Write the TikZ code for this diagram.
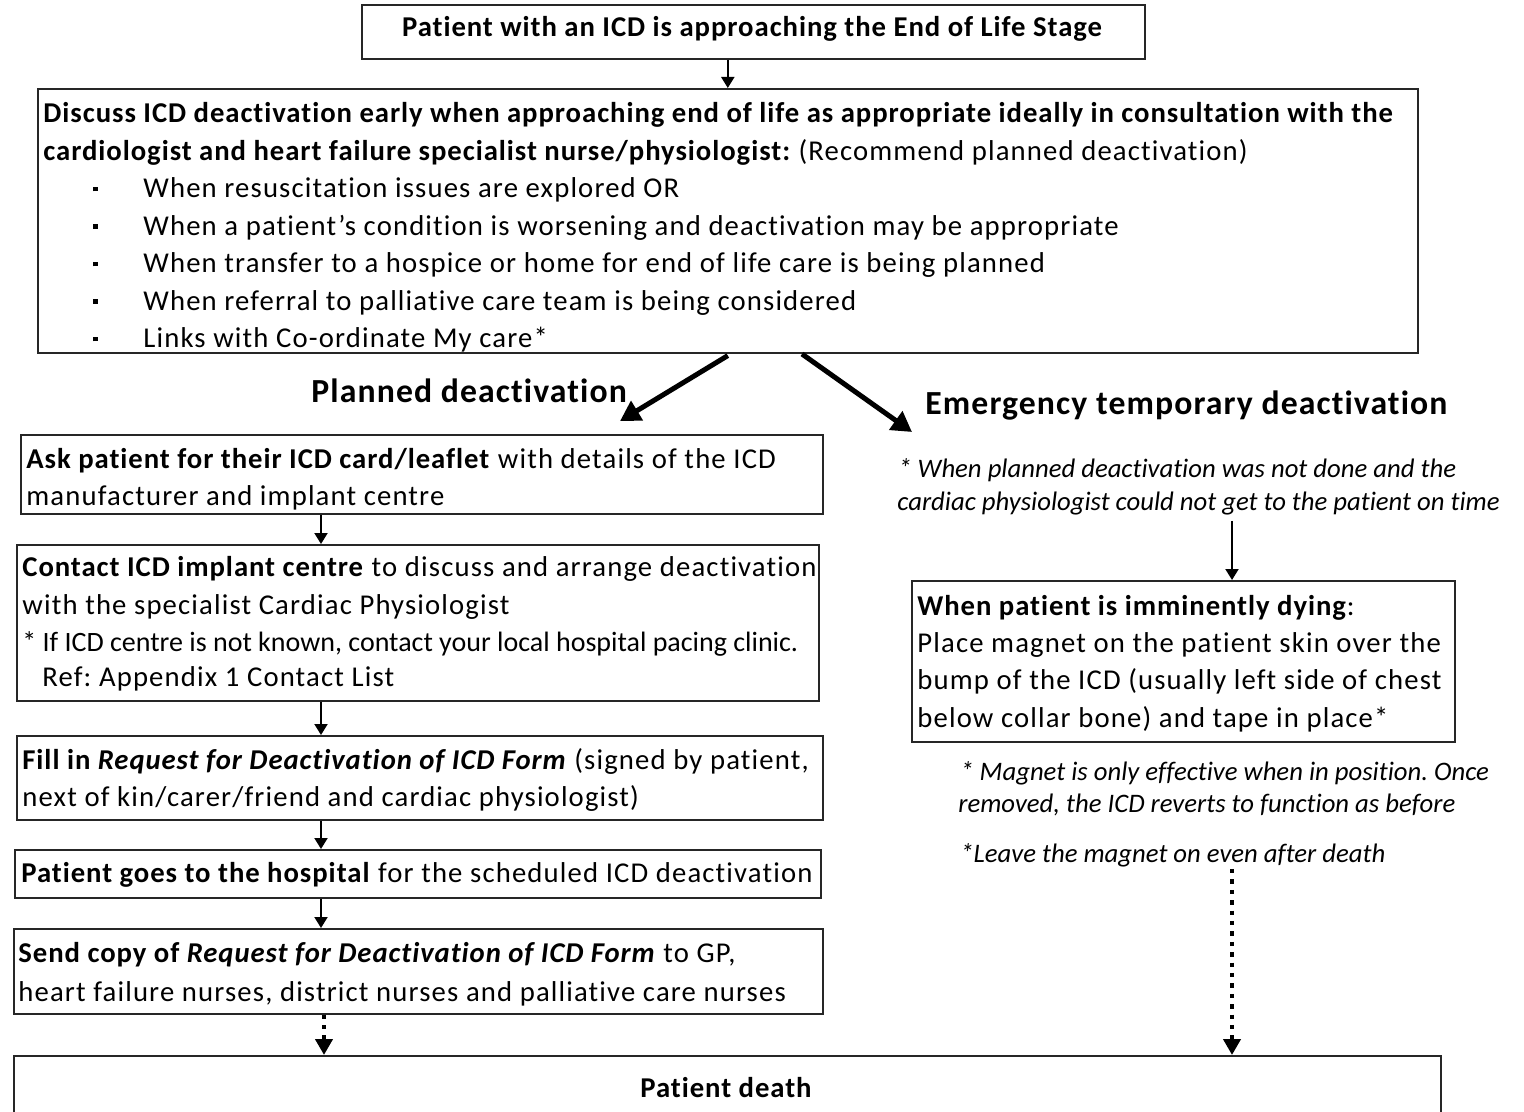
\documentclass[tikz,border=0pt]{standalone}
\usepackage{fontspec}
\setmainfont{Carlito}[LetterSpace=4, Ligatures=NoCommon,
  BoldFeatures={LetterSpace=3.3}, BoldItalicFeatures={LetterSpace=3.3}]
\newfontfamily\tightfont{Carlito}[Ligatures=NoCommon]
\usetikzlibrary{arrows.meta}
\tikzset{
  box/.style={draw=black!85, line width=0.8pt, inner sep=0pt, anchor=north west},
  txt/.style={anchor=base west, inner sep=0pt, font=\fontsize{14.35}{17}\selectfont},
  head/.style={anchor=base west, inner sep=0pt, font=\fontsize{16.85}{20}\selectfont\bfseries},
  note/.style={anchor=base west, inner sep=0pt, font=\fontsize{13.35}{16}\tightfont\itshape},
  arr/.style={line width=1pt, -{Triangle[length=5.5pt,width=6.5pt]}},
  bigarr/.style={line width=2.5pt, -{Triangle[length=10pt,width=11pt]}},
  dotarr/.style={line width=2pt, dash pattern=on 2.2pt off 3pt, -{Triangle[length=8pt,width=8.5pt]}}
}
\newcommand{\blt}{\makebox[25pt][l]{\rule[3.3pt]{2.4pt}{2.4pt}}}
\begin{document}
\frenchspacing
\begin{tikzpicture}[x=0.5pt,y=-0.5pt]
\useasboundingbox (0,0) rectangle (1524,1112);
\fill[white] (0,0) rectangle (1524,1112);
% boxes
\node[box, minimum width=391.5pt, minimum height=27pt] (tb) at (361,4) {};
\node[box, minimum width=690pt, minimum height=132pt] (big) at (37,88) {};
\node[box, minimum width=401pt, minimum height=39.5pt] (bA) at (20,434) {};
\node[box, minimum width=401pt, minimum height=78pt] (bB) at (16,544) {};
\node[box, minimum width=403pt, minimum height=42pt] (bC) at (16,735) {};
\node[box, minimum width=403pt, minimum height=24pt] (bD) at (14,849) {};
\node[box, minimum width=404.5pt, minimum height=42.5pt] (bE) at (13,928) {};
\node[box, minimum width=713.5pt, minimum height=40pt] (death) at (13,1055) {};
\node[box, minimum width=271.5pt, minimum height=80.5pt] (bF) at (911,580) {};
% title
\node[txt, anchor=base] (t0) at (752,37) {\bfseries Patient with an ICD is approaching the End of Life Stage};
% big box text
\begin{scope}
\clip (big.north west) rectangle (big.south east);
\node[txt] (d1) at (43,123) {\bfseries Discuss ICD deactivation early when approaching end of life as appropriate ideally in consultation with the};
\node[txt] (d2) at (43,160.5) {\textbf{cardiologist and heart failure specialist nurse/physiologist:} (Recommend planned deactivation)};
\node[txt] (d3) at (93,198) {\blt When resuscitation issues are explored OR};
\node[txt] (d4) at (93,235.5) {\blt When a patient’s condition is worsening and deactivation may be appropriate};
\node[txt] (d5) at (93,273) {\blt When transfer to a hospice or home for end of life care is being planned};
\node[txt] (d6) at (93,310.5) {\blt When referral to palliative care team is being considered};
\node[txt] (d7) at (93,348) {\blt Links with Co-ordinate My care*};
\end{scope}
% headings
\node[head] (pl) at (311,402) {Planned deactivation};
\node[head] (em) at (925,414) {Emergency temporary deactivation};
% left column
\node[txt] (a1) at (26,468) {\textbf{Ask patient for their ICD card/leaflet} with details of the ICD};
\node[txt] (a2) at (26,505) {manufacturer and implant centre};
\node[txt] (b1) at (22,576) {\textbf{Contact ICD implant centre} to discuss and arrange deactivation};
\node[txt] (b2) at (22,614) {with the specialist Cardiac Physiologist};
\node[txt] (b3) at (22,651) {\fontsize{14}{17}\tightfont * If ICD centre is not known, contact your local hospital pacing clinic.};
\node[txt] (b4) at (42,686) {Ref: Appendix 1 Contact List};
\node[txt] (c1) at (22,769) {\textbf{Fill in \textit{Request for Deactivation of ICD Form}} (signed by patient,};
\node[txt] (c2) at (22,806) {next of kin/carer/friend and cardiac physiologist)};
\node[txt] (dd1) at (21,882) {\textbf{Patient goes to the hospital} for the scheduled ICD deactivation};
\node[txt] (e1) at (18,962) {\textbf{Send copy of \textit{Request for Deactivation of ICD Form}} to GP,};
\node[txt] (e2) at (18,1001) {heart failure nurses, district nurses and palliative care nurses};
\node[txt, anchor=base] (pd) at (726,1097) {\bfseries Patient death};
% right column
\node[note] (n1) at (898,477) {* When planned deactivation was not done and the};
\node[note] (n2) at (897,510) {cardiac physiologist could not get to the patient on time};
\node[txt] (f1) at (917,615) {\textbf{When patient is imminently dying}:};
\node[txt] (f2) at (917,652) {Place magnet on the patient skin over the};
\node[txt] (f3) at (917,689) {bump of the ICD (usually left side of chest};
\node[txt] (f4) at (917,727) {below collar bone) and tape in place*};
\node[note] (m1) at (960,780) {* Magnet is only effective when in position. Once};
\node[note] (m2) at (958,812) {removed, the ICD reverts to function as before};
\node[note] (m3) at (960,862) {*Leave the magnet on even after death};
% connectors
\coordinate (xL) at (321,0);
\coordinate (xL2) at (324,0);
\coordinate (xR) at (1232,0);
\coordinate (plTip) at (620,421);
\coordinate (emStart) at (802,354);
\coordinate (emTip) at (912,432);
\draw[arr] (tb.south -| big.north) -- (big.north);
\draw[bigarr] ([yshift=-1pt]big.south) -- (plTip);
\draw[bigarr] (emStart) -- (emTip);
\draw[arr] (bA.south -| xL) -- (bB.north -| xL);
\draw[arr] (bB.south -| xL) -- (bC.north -| xL);
\draw[arr] (bC.south -| xL) -- (bD.north -| xL);
\draw[arr] (bD.south -| xL) -- (bE.north -| xL);
\draw[dotarr] (bE.south -| xL2) -- (death.north -| xL2);
\draw[arr] ([yshift=-3pt]n2.south -| xR) -- (bF.north -| xR);
\draw[dotarr] ([yshift=-1pt]m3.south -| xR) -- (death.north -| xR);
\end{tikzpicture}
\end{document}
